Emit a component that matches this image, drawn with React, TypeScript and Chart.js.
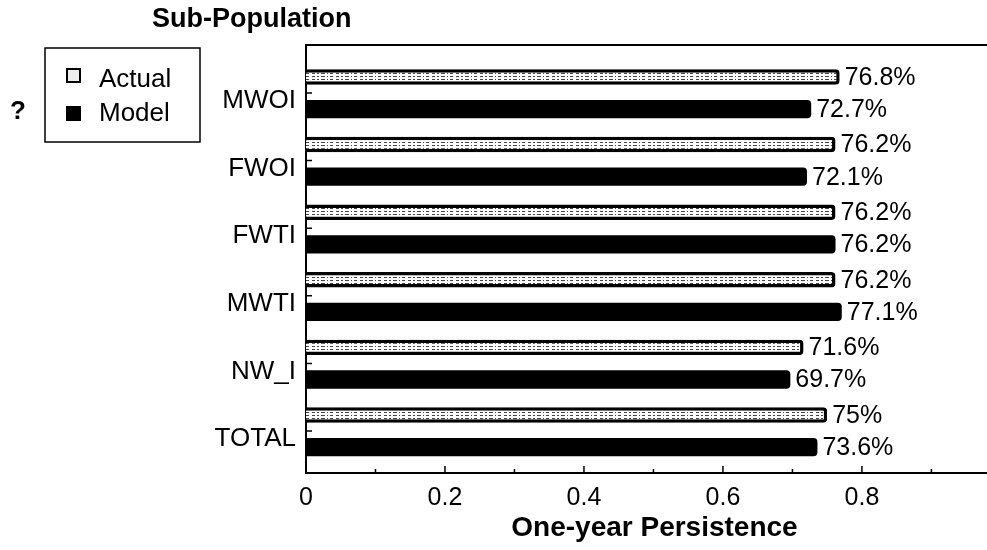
import React, { useEffect, useRef } from 'react';
import { Chart, registerables } from 'chart.js';

Chart.register(...registerables);

const categories = ['MWOI', 'FWOI', 'FWTI', 'MWTI', 'NW_I', 'TOTAL'];
const actualPct = [76.8, 76.2, 76.2, 76.2, 71.6, 75];
const modelPct = [72.7, 72.1, 76.2, 77.1, 69.7, 73.6];
const seriesNames = ['Actual', 'Model'];
const xTicks = [0, 0.2, 0.4, 0.6, 0.8];
const xMinorStep = 0.1;
const xMax = 0.98;
const xTitle = 'One-year Persistence';
const yTitle = 'Sub-Population';

const FONT = '"Liberation Sans", Arial, Helvetica, sans-serif';

function makeHatch(): CanvasPattern | string {
  const c = document.createElement('canvas');
  c.width = 24;
  c.height = 3;
  const g = c.getContext('2d');
  if (!g) return '#ddd';
  g.fillStyle = '#fff';
  g.fillRect(0, 0, 24, 3);
  g.fillStyle = '#444';
  [[0, 3], [5, 2], [9, 4], [15, 1], [18, 3]].forEach(([x, w]) => g.fillRect(x, 1, w, 1));
  return g.createPattern(c, 'repeat') || '#ddd';
}

const fmtPct = (v: number) => `${parseFloat((v * 100).toFixed(1))}%`;

export default function App() {
  const ref = useRef<HTMLCanvasElement | null>(null);

  useEffect(() => {
    if (!ref.current) return;
    const hatch = makeHatch();

    const decor = {
      id: 'decor',
      afterDraw(chart: any) {
        const { ctx, chartArea: a, scales } = chart;
        const xs = scales.x;
        const ys = scales.y;
        ctx.save();
        ctx.strokeStyle = '#000';
        ctx.fillStyle = '#000';
        // top frame line
        ctx.lineWidth = 2;
        ctx.beginPath();
        ctx.moveTo(a.left, a.top);
        ctx.lineTo(a.right, a.top);
        ctx.stroke();
        // inward x tick marks
        ctx.lineWidth = 1.5;
        ctx.beginPath();
        for (let i = 1; i * xMinorStep <= xMax + 1e-9; i++) {
          const px = xs.getPixelForValue(i * xMinorStep);
          const len = i % 2 === 0 ? 7 : 4;
          ctx.moveTo(px, a.bottom);
          ctx.lineTo(px, a.bottom - len);
        }
        // inward y tick marks
        categories.forEach((_, i) => {
          const py = ys.getPixelForValue(i);
          ctx.moveTo(a.left, py);
          ctx.lineTo(a.left + 6, py);
        });
        ctx.stroke();

        // data labels
        ctx.font = `25px ${FONT}`;
        ctx.textAlign = 'left';
        ctx.textBaseline = 'middle';
        chart.data.datasets.forEach((ds: any, di: number) => {
          const meta = chart.getDatasetMeta(di);
          meta.data.forEach((el: any, i: number) => {
            ctx.fillText(fmtPct(ds.data[i].x), el.x + 5, el.y + 1);
          });
        });

        // axis titles
        ctx.font = `bold 28px ${FONT}`;
        ctx.textAlign = 'center';
        ctx.fillText(xTitle, (a.left + a.right) / 2 + 8, a.bottom + 55);
        ctx.font = `bold 27px ${FONT}`;
        ctx.textAlign = 'left';
        ctx.fillText(yTitle, 152, 20);

        // legend
        ctx.lineWidth = 1.5;
        ctx.strokeRect(45, 48, 155, 94);
        ctx.fillStyle = '#eee';
        ctx.fillRect(67, 69, 13, 13);
        ctx.lineWidth = 2;
        ctx.strokeRect(67, 69, 13, 13);
        ctx.fillStyle = '#000';
        ctx.fillRect(66, 106, 15, 15);
        ctx.font = `26px ${FONT}`;
        ctx.textBaseline = 'middle';
        ctx.fillText(seriesNames[0], 99, 80);
        ctx.fillText(seriesNames[1], 99, 114);

        // stray mark
        ctx.font = `bold 26px ${FONT}`;
        ctx.fillText('?', 10, 112);
        ctx.restore();
      },
    };

    const chart = new Chart(ref.current, {
      type: 'bar',
      data: {
        datasets: [
          {
            label: seriesNames[0],
            data: actualPct.map((v, i) => ({ x: v / 100, y: i })),
            backgroundColor: hatch as any,
            borderColor: '#000',
            borderWidth: 3.5,
            borderRadius: 4,
            borderSkipped: 'start',
            barPercentage: 0.48,
            categoryPercentage: 0.95,
          },
          {
            label: seriesNames[1],
            data: modelPct.map((v, i) => ({ x: v / 100, y: i })),
            backgroundColor: '#000',
            borderColor: '#000',
            borderWidth: 0,
            borderRadius: 4,
            barPercentage: 0.57,
            categoryPercentage: 0.95,
          },
        ],
      },
      options: {
        indexAxis: 'y',
        responsive: false,
        animation: false,
        layout: { padding: { top: 45, right: 0, bottom: 0, left: 0 } },
        plugins: { legend: { display: false }, title: { display: false }, tooltip: { enabled: false } },
        scales: {
          x: {
            type: 'linear',
            min: 0,
            max: xMax,
            afterBuildTicks: (s: any) => {
              s.ticks = xTicks.map((v) => ({ value: v }));
            },
            afterFit: (s: any) => {
              s.height = 77;
            },
            ticks: {
              callback: (v: any) => String(v),
              font: { size: 25, family: FONT },
              color: '#000',
              padding: 10,
            },
            grid: { display: false, drawTicks: false },
            border: { display: true, color: '#000', width: 2 },
          },
          y: {
            type: 'linear',
            reverse: true,
            offset: false,
            min: -0.71,
            max: 5.62,
            afterBuildTicks: (s: any) => {
              s.ticks = categories.map((_, i) => ({ value: i }));
            },
            afterFit: (s: any) => {
              s.width = 306;
            },
            ticks: {
              callback: (v: any) => categories[v],
              font: { size: 26, family: FONT },
              color: '#000',
              padding: 10,
              labelOffset: 8,
              autoSkip: false,
            },
            grid: { display: false, drawTicks: false, offset: false },
            border: { display: true, color: '#000', width: 2 },
          },
        },
      },
      plugins: [decor],
    } as any);

    return () => chart.destroy();
  }, []);

  return (
    <div style={{ position: 'fixed', left: 0, top: 0, width: 987, height: 550, background: '#fff' }}>
      <canvas ref={ref} width={987} height={550} />
    </div>
  );
}
